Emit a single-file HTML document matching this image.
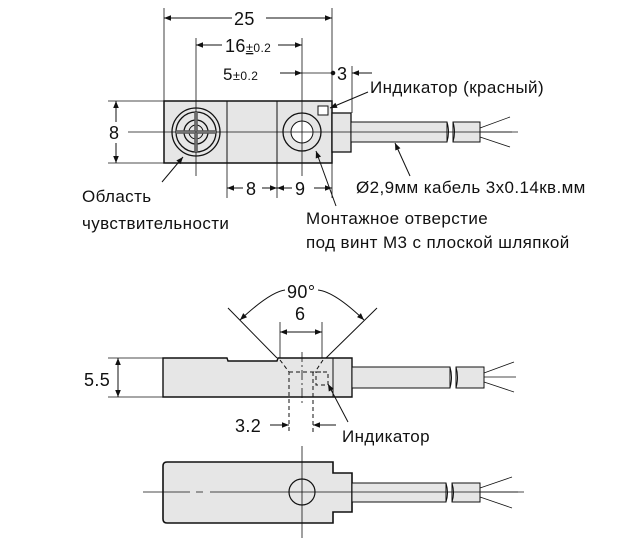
<!DOCTYPE html>
<html><head><meta charset="utf-8"><style>
html,body{margin:0;padding:0;background:#fff;}
svg{display:block}
text{font-family:"Liberation Sans",sans-serif;fill:#111;}
</style></head><body>
<svg width="640" height="546" viewBox="0 0 640 546" xmlns="http://www.w3.org/2000/svg">
<defs>
<marker id="a" viewBox="0 0 10 10" refX="10" refY="5" markerWidth="9" markerHeight="7" orient="auto-start-reverse" markerUnits="userSpaceOnUse"><path d="M0,1 L10,5 L0,9 z" fill="#111"/></marker>
</defs>
<g stroke="#111" stroke-width="1" fill="none">
<rect x="164" y="101" width="168" height="62" fill="#e6e6e6" stroke-width="1.5"/>
<line x1="227" y1="101" x2="227" y2="163"/>
<line x1="277" y1="101" x2="277" y2="163"/>
<rect x="332" y="113" width="19" height="39" fill="#e6e6e6" stroke-width="1.3"/>
<rect x="351" y="122" width="96" height="20" fill="#e6e6e6"/>
<rect x="453" y="122" width="27" height="20" fill="#e6e6e6"/>
<path d="M447,122 q3,10 0,20 M453,122 q3,10 0,20"/>
<path d="M480,128 L510,117 M480,132 L512,132 M480,137 L510,147" stroke-width="0.8"/>
<circle cx="196" cy="132" r="24" fill="#e6e6e6" stroke-width="1.3"/>
<circle cx="196" cy="132" r="20" stroke-width="1.3"/>
<circle cx="196" cy="132" r="12" stroke-width="1.3"/>
<circle cx="196" cy="132" r="7"/>
<path d="M196,112 V152 M176,132 H216" stroke-width="3.5" stroke="#555"/>
<path d="M196,112 V152 M176,132 H216" stroke-width="1.5" stroke="#e6e6e6"/>
<circle cx="302" cy="132" r="19" fill="#e6e6e6" stroke-width="1.3"/>
<circle cx="302" cy="132" r="11" fill="#fff"/>
<rect x="318" y="106" width="10" height="9" fill="#fff"/>
<line x1="128" y1="132" x2="518" y2="132" stroke-width="0.8"/>
<line x1="196" y1="38" x2="196" y2="176" stroke-width="0.8"/>
<line x1="302" y1="38" x2="302" y2="176" stroke-width="0.8"/>
<line x1="164" y1="8" x2="164" y2="101" stroke-width="0.8"/>
<line x1="332" y1="8" x2="332" y2="101" stroke-width="0.8"/>
<line x1="108" y1="101" x2="164" y2="101" stroke-width="0.8"/>
<line x1="108" y1="163" x2="164" y2="163" stroke-width="0.8"/>
<line x1="227" y1="163" x2="227" y2="198" stroke-width="0.8"/>
<line x1="277" y1="163" x2="277" y2="198" stroke-width="0.8"/>
<line x1="332" y1="163" x2="332" y2="198" stroke-width="0.8"/>
<line x1="352" y1="66" x2="352" y2="113" stroke-width="0.8"/>
<line x1="164" y1="18" x2="232" y2="18" marker-start="url(#a)"/>
<line x1="266" y1="18" x2="332" y2="18" marker-end="url(#a)"/>
<line x1="196" y1="45" x2="222" y2="45" marker-start="url(#a)"/>
<line x1="278" y1="45" x2="302" y2="45" marker-end="url(#a)"/>
<line x1="280" y1="73" x2="302" y2="73" marker-end="url(#a)"/>
<line x1="302" y1="73" x2="333" y2="73" stroke-width="0.8"/>
<circle cx="333" cy="73" r="1.8" fill="#111"/>
<line x1="372" y1="73" x2="352" y2="73" marker-end="url(#a)"/>
<line x1="116" y1="101" x2="116" y2="122" marker-start="url(#a)"/>
<line x1="116" y1="143" x2="116" y2="163" marker-end="url(#a)"/>
<line x1="227" y1="188" x2="243" y2="188" marker-start="url(#a)"/>
<line x1="262" y1="188" x2="277" y2="188" marker-end="url(#a)"/>
<line x1="277" y1="188" x2="292" y2="188" marker-start="url(#a)"/>
<line x1="314" y1="188" x2="332" y2="188" marker-end="url(#a)"/>
<line x1="162" y1="182" x2="183" y2="157" marker-end="url(#a)"/>
<line x1="368" y1="92" x2="330" y2="108" marker-end="url(#a)"/>
<line x1="410" y1="176" x2="395" y2="143" marker-end="url(#a)"/>
<line x1="336" y1="206" x2="316" y2="151" marker-end="url(#a)"/>

<path d="M163,358 H227 L228,361 H277 L278,358 H352 V397 H163 Z" fill="#e6e6e6" stroke-width="1.4"/>
<line x1="333" y1="358" x2="333" y2="397"/>
<rect x="352" y="367" width="98" height="21" fill="#e6e6e6"/>
<rect x="456" y="367" width="28" height="21" fill="#e6e6e6"/>
<path d="M450,367 q3,10 0,21 M456,367 q3,10 0,21"/>
<path d="M484,373 L514,362 M484,377 L516,377 M484,382 L514,392" stroke-width="0.8"/>
<line x1="228" y1="308" x2="277" y2="358"/>
<line x1="377" y1="308" x2="326" y2="358"/>
<path d="M240,320 Q270,292 285,290" marker-start="url(#a)"/>
<path d="M318,290 Q335,292 364,320" marker-end="url(#a)"/>
<line x1="280" y1="322" x2="280" y2="358" stroke-width="0.8"/>
<line x1="322" y1="322" x2="322" y2="358" stroke-width="0.8"/>
<line x1="280" y1="332" x2="322" y2="332" marker-start="url(#a)" marker-end="url(#a)"/>
<g stroke-dasharray="4,3">
<path d="M280,360 L289,372 V432 M289,372 H327 M323,360 L315,372 M313,372 V432"/>
<rect x="316" y="372" width="12" height="13"/>
</g>
<line x1="302" y1="352" x2="302" y2="405" stroke-dasharray="10,3,2,3" stroke-width="0.8"/>
<line x1="108" y1="358" x2="163" y2="358" stroke-width="0.8"/>
<line x1="108" y1="397" x2="163" y2="397" stroke-width="0.8"/>
<line x1="118" y1="358" x2="118" y2="397" marker-start="url(#a)" marker-end="url(#a)"/>
<line x1="270" y1="425" x2="289" y2="425" marker-end="url(#a)"/>
<line x1="336" y1="425" x2="313" y2="425" marker-end="url(#a)"/>
<line x1="348" y1="422" x2="328" y2="384" marker-end="url(#a)"/>

<path d="M167,462 H333 V473 H352 V512 H333 V523 H167 Q163,523 163,519 V466 Q163,462 167,462 Z" fill="#e6e6e6" stroke-width="1.6"/>
<rect x="352" y="483" width="94" height="19" fill="#e6e6e6"/>
<rect x="452" y="483" width="28" height="19" fill="#e6e6e6"/>
<path d="M446,483 q3,10 0,19 M452,483 q3,10 0,19"/>
<path d="M480,488 L512,477 M480,492 L518,492 M480,497 L512,508" stroke-width="0.8"/>
<circle cx="302" cy="492" r="13" fill="#e6e6e6" stroke-width="1.2"/>
<path d="M143,492 H190 M196,492 H203 M210,492 H524" stroke-width="0.8"/>
<line x1="302" y1="446" x2="302" y2="538" stroke-width="0.8"/>
</g>
<g font-size="17" letter-spacing="0.4">
<text x="234" y="25" font-size="18">25</text>
<text x="225" y="52" font-size="18">16<tspan font-size="13" text-decoration="underline">±</tspan><tspan font-size="12">0.2</tspan></text>
<text x="223" y="80" font-size="17">5<tspan font-size="13">±</tspan><tspan font-size="12">0.2</tspan></text>
<text x="337" y="80" font-size="18">3</text>
<text x="109" y="139" font-size="18">8</text>
<text x="246" y="195" font-size="18">8</text>
<text x="295" y="195" font-size="18">9</text>
<text x="370" y="93">Индикатор (красный)</text>
<text x="82" y="202">Область</text>
<text x="82" y="229">чувствительности</text>
<text x="356" y="193">Ø2,9мм кабель 3x0.14кв.мм</text>
<text x="306" y="224">Монтажное отверстие</text>
<text x="306" y="248">под винт М3 с плоской шляпкой</text>
<text x="287" y="298" font-size="18">90°</text>
<text x="295" y="320" font-size="18">6</text>
<text x="84" y="386" font-size="18">5.5</text>
<text x="235" y="432" font-size="18">3.2</text>
<text x="342" y="442">Индикатор</text>
</g>
</svg>
</body></html>
